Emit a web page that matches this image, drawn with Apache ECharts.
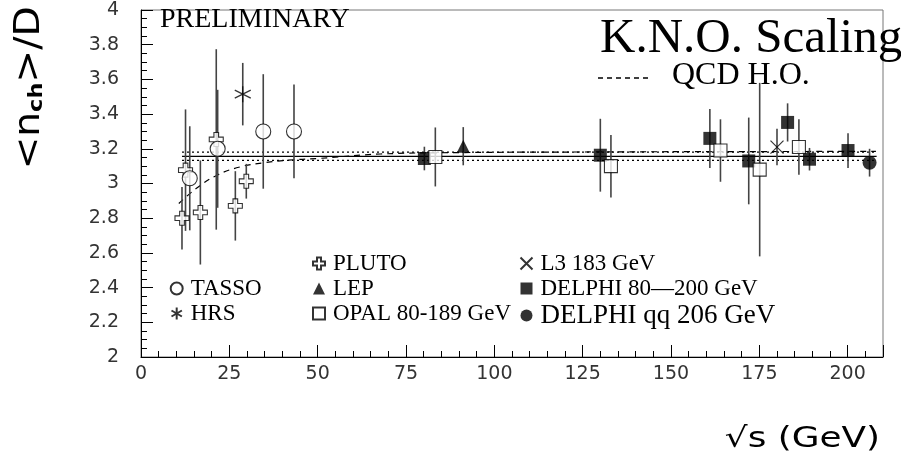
<!DOCTYPE html>
<html>
<head>
<meta charset="utf-8">
<script src="https://cdn.jsdelivr.net/npm/echarts/dist/echarts.min.js"></script>
<style>
  html, body { margin: 0; padding: 0; background: #fff; }
  #chart { width: 901px; height: 469px; }
</style>
</head>
<body>
<div id="chart"></div>
<script>
// Mean charged multiplicity over dispersion, <n_ch>/D, versus √s (GeV)
// Each experiment: energies, values and symmetric errors.
const plutoS = [11.6, 12.6, 16.8, 21.3, 26.7, 29.8];
const plutoV = [2.80, 3.077, 2.833, 3.254, 2.871, 3.013];
const plutoE = [0.18, 0.35, 0.30, 0.52, 0.20, 0.10];

const tassoS = [13.8, 21.7, 34.6, 43.3];
const tassoV = [3.03, 3.20, 3.30, 3.30];
const tassoE = [0.30, 0.34, 0.33, 0.27];

const hrsS = [28.8];
const hrsV = [3.515];
const hrsE = [0.18];

const lepS = [91.2];
const lepV = [3.215];
const lepE = [0.11];

const opalS = [83.3, 133.0, 164.0, 175.1, 186.2];
const opalV = [3.153, 3.10, 3.19, 3.08, 3.21];
const opalE = [0.17, 0.18, 0.18, 0.50, 0.16];

const l3S = [180.0];
const l3V = [3.21];
const l3E = [0.105];

const delphiS = [80.2, 130.0, 161.0, 172.0, 183.0, 189.2, 200.1];
const delphiV = [3.144, 3.163, 3.26, 3.13, 3.352, 3.14, 3.19];
const delphiE = [0.068, 0.21, 0.17, 0.25, 0.11, 0.065, 0.10];

const delphiQqS = [206.2];
const delphiQqV = [3.12];
const delphiQqE = [0.08];

// QCD higher-order prediction
const qcdS = [10.7, 15.6, 21.5, 28.1, 34.7, 41.4, 49.9, 67.8, 90, 130, 170, 208];
const qcdV = [2.885, 2.971, 3.048, 3.096, 3.119, 3.134, 3.144, 3.170, 3.178, 3.182, 3.184, 3.185];

// KNO constant fit and its band
const fitRange = [11.6, 208.2];
const fitMean = 3.156;
const fitLow = 3.133;
const fitHigh = 3.181;

// Axis ticks
const xTicks = [0, 25, 50, 75, 100, 125, 150, 175, 200];
const yTicks = [2, 2.2, 2.4, 2.6, 2.8, 3, 3.2, 3.4, 3.6, 3.8, 4];

const SERIF = 'Liberation Serif';
const SANS = 'DejaVu Sans';

const pts = (s, v) => s.map((x, i) => [x, v[i]]);
const bars = (s, v, e) => s.map((x, i) => [x, v[i] - e[i], v[i] + e[i]]);

const allBars = [].concat(
  bars(plutoS, plutoV, plutoE), bars(tassoS, tassoV, tassoE), bars(hrsS, hrsV, hrsE),
  bars(lepS, lepV, lepE), bars(opalS, opalV, opalE), bars(l3S, l3V, l3E),
  bars(delphiS, delphiV, delphiE), bars(delphiQqS, delphiQqV, delphiQqE)
);

const PLUS = 'path://M-1,-3L1,-3L1,-1L3,-1L3,1L1,1L1,3L-1,3L-1,1L-3,1L-3,-1L-1,-1Z';
const STAR = 'path://M0,-10L0,10M-8.66,-5L8.66,5M-8.66,5L8.66,-5';
const CROSS = 'path://M-5,-5L5,5M-5,5L5,-5';

const open = { color: '#fff', borderColor: '#000', borderWidth: 1.1 };
const stroke = { color: 'none', borderColor: '#000', borderWidth: 1.2 };
const solid = { color: '#000', borderColor: '#000', borderWidth: 0 };

function scatter(name, data, symbol, size, style, z) {
  return { type: 'scatter', name, data, symbol, symbolSize: size, itemStyle: style,
           z: z || 5, emphasis: { disabled: true }, silent: true };
}
function curve(data, type, width, smooth) {
  return { type: 'line', data, showSymbol: false, smooth: smooth || false, z: 3, silent: true,
           lineStyle: { color: '#000', width, type }, emphasis: { disabled: true } };
}

const chart = echarts.init(document.getElementById('chart'), null, { renderer: 'canvas' });

const legendText = { fontFamily: SERIF, fontSize: 23, color: '#000', padding: [0, 0, 0, 3] };
const legendBase = { orient: 'vertical', padding: 0, itemGap: 2, itemWidth: 12, itemHeight: 12,
                     textStyle: legendText, selectedMode: false };

chart.setOption({
  animation: false,
  backgroundColor: '#fff',
  grid: { left: 141, top: 10, width: 742, height: 347, show: true, borderColor: '#777', borderWidth: 1 },
  xAxis: [
    {
      type: 'value', min: 0, max: 210, interval: 25,
      axisLine: { show: true, lineStyle: { color: '#000', width: 1 } },
      axisTick: { show: true, inside: true, length: 12, lineStyle: { color: '#000' } },
      axisLabel: { margin: 8, fontFamily: SANS, fontSize: 19, color: '#333',
                   formatter: v => (xTicks.indexOf(v) >= 0 ? String(v) : '') },
      splitLine: { show: false }
    },
    {
      type: 'value', min: 0, max: 210, interval: 5, position: 'bottom',
      axisLine: { show: false }, axisLabel: { show: false }, splitLine: { show: false },
      axisTick: { show: true, inside: true, length: 6, lineStyle: { color: '#000' } }
    }
  ],
  yAxis: {
    type: 'value', min: 2, max: 4, interval: 0.2,
    axisLine: { show: true, lineStyle: { color: '#000', width: 1 } },
    axisTick: { show: true, inside: true, length: 12, lineStyle: { color: '#000' } },
    minorTick: { show: true, splitNumber: 4, length: 6, lineStyle: { color: '#000' } },
    axisLabel: { margin: 22, fontFamily: SANS, fontSize: 19, color: '#333',
                 formatter: v => { const t = yTicks.find(y => Math.abs(y - v) < 1e-6); return t === undefined ? '' : String(t); } },
    splitLine: { show: false }
  },
  legend: [
    Object.assign({ left: 312, top: 252, data: ['PLUTO', 'LEP', 'OPAL 80-189 GeV'] }, legendBase),
    Object.assign({ left: 169, top: 277, data: ['TASSO', 'HRS'] }, legendBase),
    Object.assign({ left: 518, top: 252,
      data: ['L3 183 GeV', 'DELPHI 80\u2014200 GeV', { name: 'DELPHI qq 206 GeV', textStyle: { fontSize: 27 } }] }, legendBase)
  ],
  series: [
    // fit band and QCD curve
    curve([[fitRange[0], fitMean], [fitRange[1], fitMean]], 'solid', 1.3),
    curve([[fitRange[0], fitLow], [fitRange[1], fitLow]], [2, 3], 1.2),
    curve([[fitRange[0], fitHigh], [fitRange[1], fitHigh]], [2, 3], 1.2),
    curve(pts(qcdS, qcdV), [6, 5], 1.2, 0.4),
    // error bars
    {
      type: 'custom', silent: true, z: 4, data: allBars,
      renderItem: (params, api) => {
        const a = api.coord([api.value(0), api.value(1)]);
        const b = api.coord([api.value(0), api.value(2)]);
        return { type: 'line', shape: { x1: a[0], y1: a[1], x2: b[0], y2: b[1] },
                 style: { stroke: '#444', lineWidth: 1.6 } };
      }
    },
    scatter('PLUTO', pts(plutoS, plutoV), PLUS, 14, open),
    scatter('TASSO', pts(tassoS, tassoV), 'circle', 15, open),
    scatter('HRS', pts(hrsS, hrsV), STAR, 16, stroke),
    scatter('LEP', pts(lepS, lepV), 'triangle', 13, solid),
    scatter('DELPHI 80\u2014200 GeV', pts(delphiS, delphiV), 'rect', 13, solid, 5),
    scatter('OPAL 80-189 GeV', pts(opalS, opalV), 'rect', 13, open, 6),
    scatter('L3 183 GeV', pts(l3S, l3V), CROSS, 13, stroke),
    scatter('DELPHI qq 206 GeV', pts(delphiQqS, delphiQqV), 'circle', 14, solid)
  ],
  graphic: [
    { type: 'text', left: 160, top: 6, z: 10,
      style: { text: 'PRELIMINARY', font: '28px "Liberation Serif"', fill: '#000' } },
    { type: 'text', left: 600, top: 15, z: 10,
      style: { text: 'K.N.O. Scaling', font: '49px "Liberation Serif"', fill: '#000' } },
    { type: 'text', left: 672, top: 60, z: 10,
      style: { text: 'QCD H.O.', font: '32px "Liberation Serif"', fill: '#000' } },
    { type: 'line', z: 10, shape: { x1: 598, y1: 78, x2: 648, y2: 78 },
      style: { stroke: '#000', lineWidth: 1.5, lineDash: [5, 4] } },
    { type: 'text', x: 880, y: 440, scaleX: 1.28, z: 10,
      style: { text: '\u221As (GeV)', font: '28px "DejaVu Sans"', fill: '#000', align: 'right', verticalAlign: 'middle' } },
    { type: 'text', x: 30, y: 88, rotation: Math.PI / 2, scaleX: 1.12, z: 10,
      style: {
        text: '{a|<n}{s|ch}{a|>/D}', align: 'center', verticalAlign: 'middle',
        rich: {
          a: { fontFamily: SANS, fontSize: 35, fill: '#000' },
          s: { fontFamily: SANS, fontSize: 20, fontWeight: 'bold', fill: '#000', padding: [14, 0, 0, 0] }
        }
      } }
  ]
});
</script>
</body>
</html>
